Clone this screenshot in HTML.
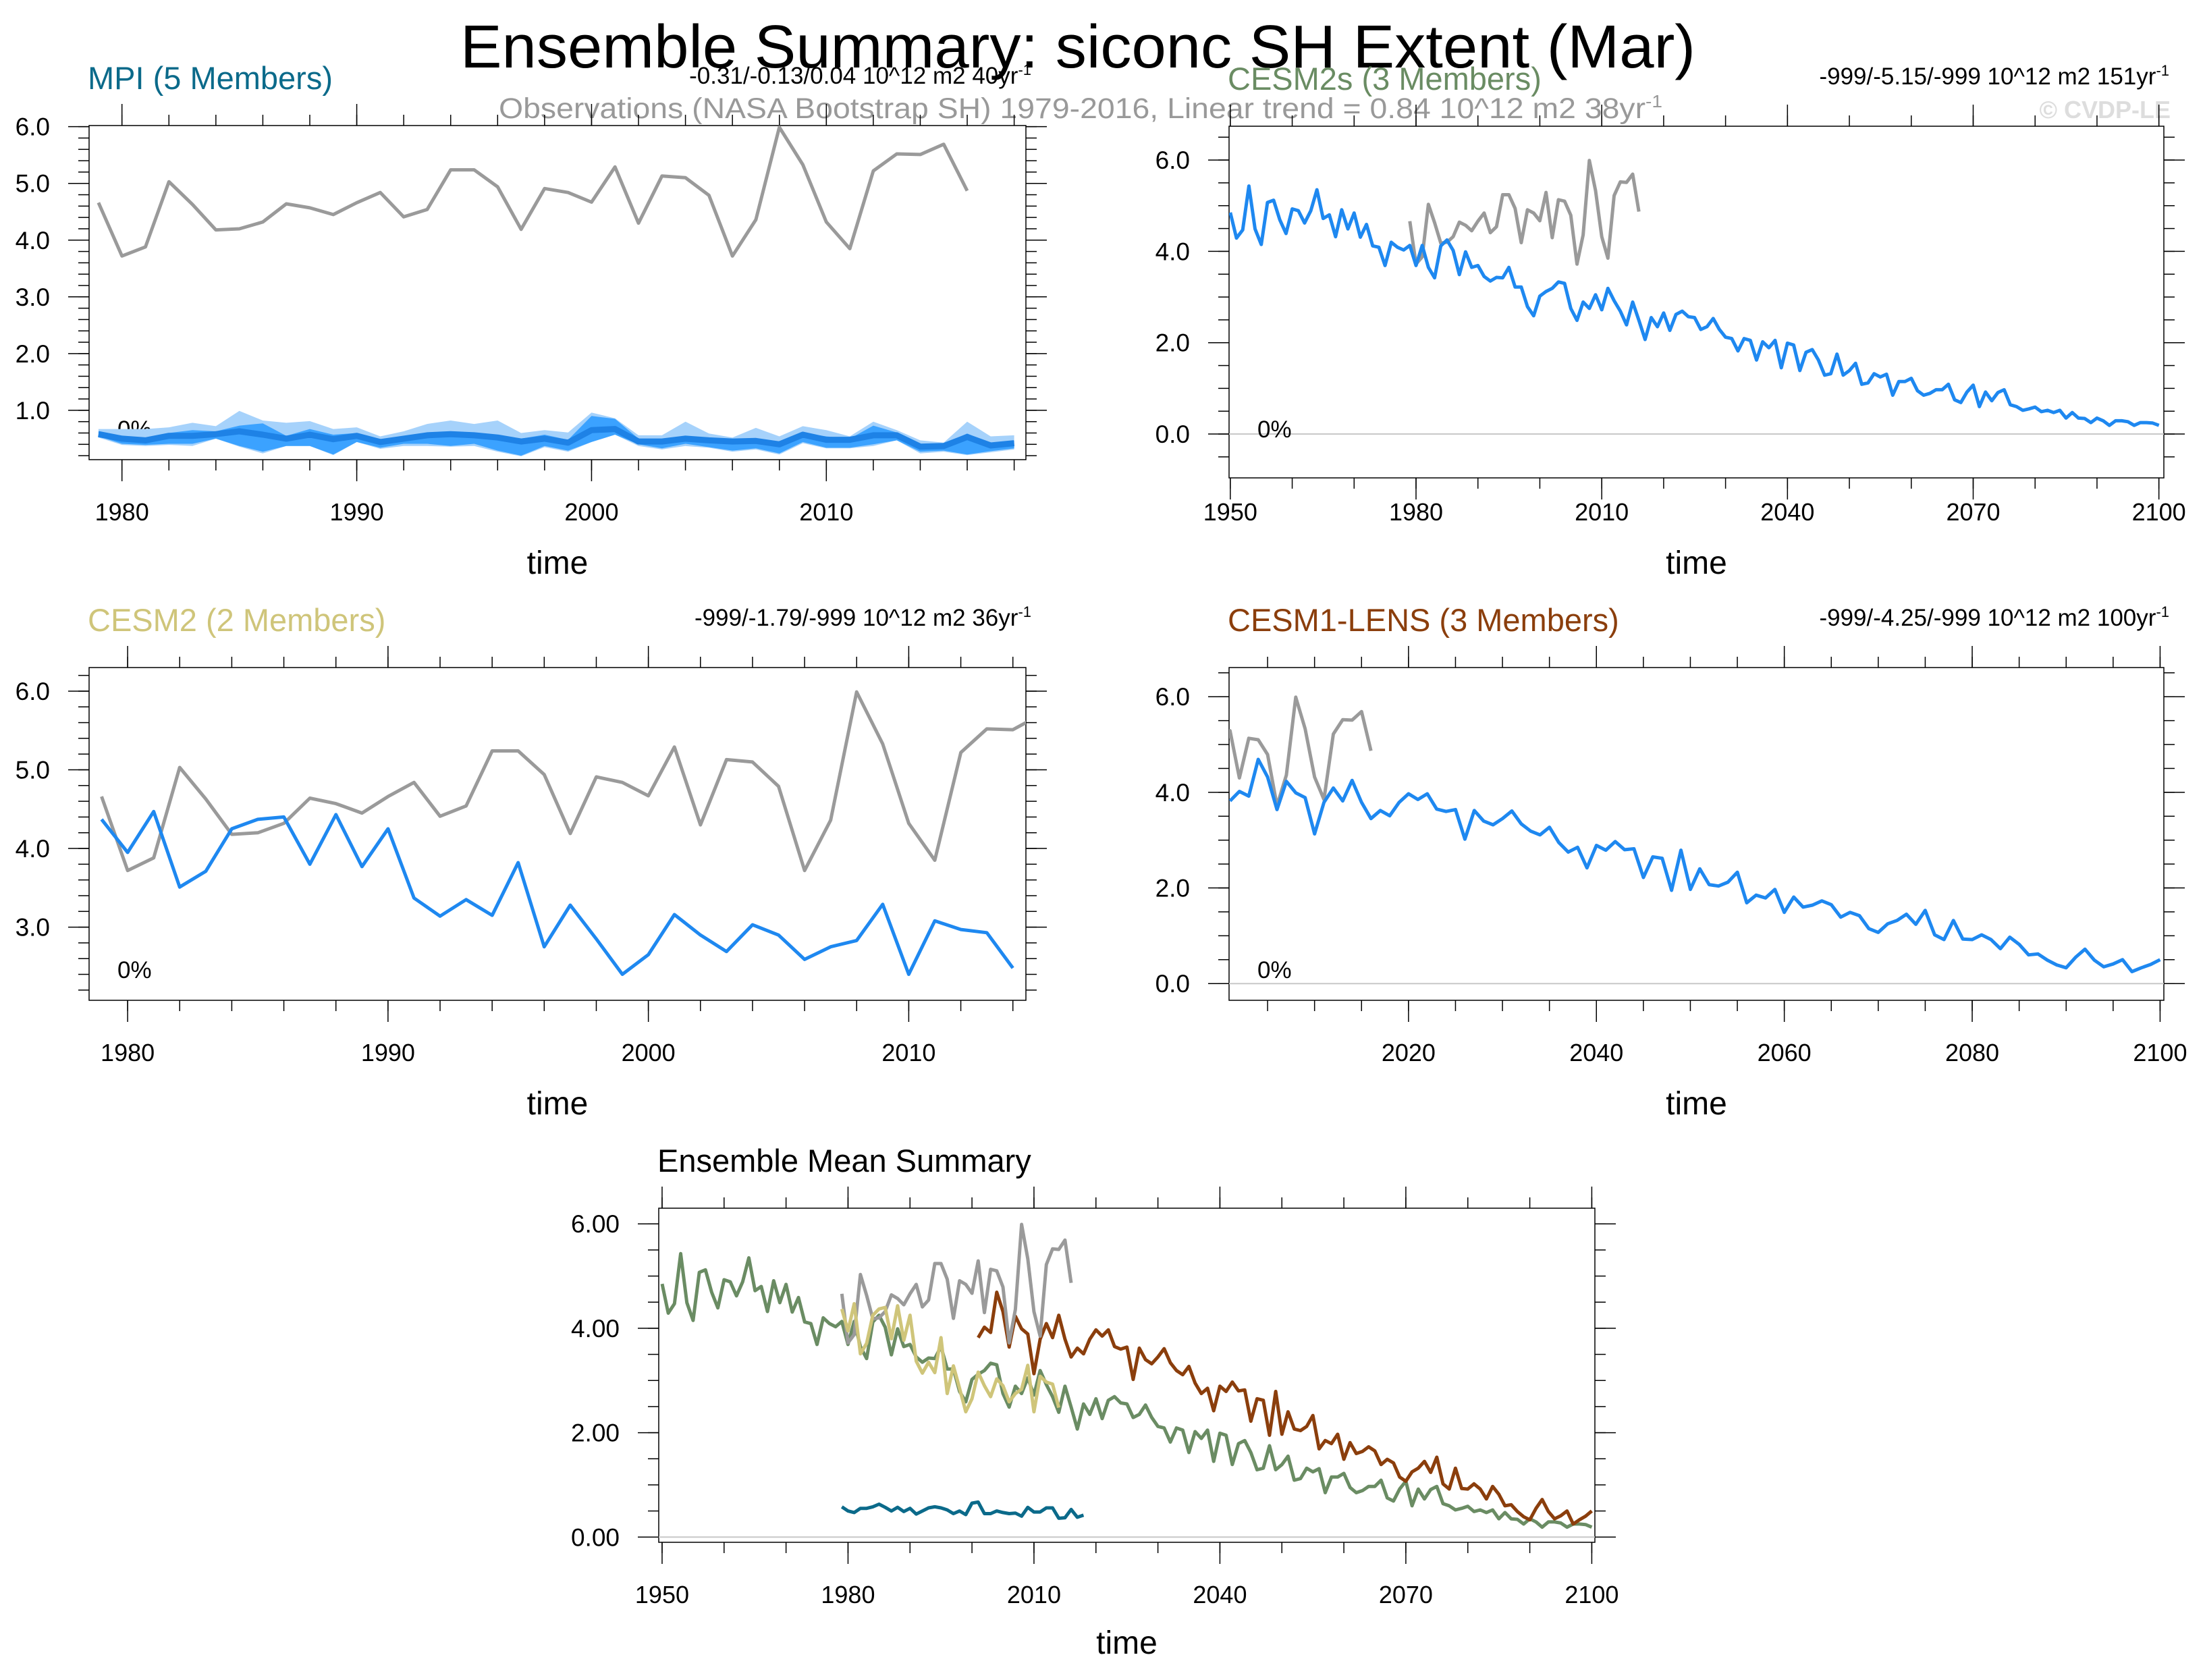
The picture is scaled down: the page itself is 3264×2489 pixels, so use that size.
<!DOCTYPE html>
<html><head><meta charset="utf-8"><style>
html,body{margin:0;padding:0;background:#fff}
svg{display:block}
text{font-family:"Liberation Sans",sans-serif}
</style></head><body>
<svg id="chart" width="3264" height="2489" viewBox="0 0 3264 2489" xmlns="http://www.w3.org/2000/svg">
<rect width="3264" height="2489" fill="#fff"/>
<text x="1597" y="100" font-size="90" text-anchor="middle" textLength="1830" lengthAdjust="spacingAndGlyphs">Ensemble Summary: siconc SH Extent (Mar)</text>
<text x="1601" y="175" font-size="43" fill="#999" text-anchor="middle" textLength="1724" lengthAdjust="spacingAndGlyphs">Observations (NASA Bootstrap SH) 1979-2016, Linear trend = 0.84 10^12 m2 38yr<tspan dy="-16" font-size="26">-1</tspan></text>
<text x="3216" y="175" font-size="36" font-weight="bold" fill="#ddd" text-anchor="end">© CVDP-LE</text>
<defs id="defs"></defs>
<g id="plots"></g>
</svg>
<script>
// ---------- data ----------
const obsStart = 1979;
const obsValues = [4.66,3.72,3.88,5.03,4.63,4.18,4.20,4.32,4.64,4.57,4.45,4.66,4.84,4.41,4.54,5.24,5.24,4.94,4.19,4.91,4.84,4.67,5.29,4.30,5.13,5.10,4.79,3.72,4.36,5.99,5.33,4.32,3.85,5.22,5.52,5.51,5.69,4.87];
const mpiStart = 1979;
const mpiMean = [0.58,0.50,0.47,0.55,0.55,0.58,0.63,0.57,0.50,0.57,0.49,0.55,0.44,0.50,0.56,0.58,0.56,0.52,0.45,0.50,0.43,0.65,0.67,0.45,0.45,0.50,0.47,0.45,0.46,0.40,0.57,0.48,0.48,0.56,0.56,0.36,0.37,0.53,0.38,0.42];
const mpiMax = [0.67,0.67,0.67,0.70,0.78,0.72,0.99,0.82,0.78,0.81,0.67,0.70,0.54,0.63,0.76,0.82,0.76,0.82,0.60,0.65,0.61,0.96,0.86,0.56,0.56,0.80,0.59,0.52,0.69,0.54,0.72,0.65,0.54,0.80,0.65,0.47,0.43,0.80,0.54,0.56];
const mpiMin = [0.52,0.39,0.37,0.39,0.37,0.50,0.36,0.24,0.37,0.37,0.21,0.44,0.32,0.37,0.37,0.36,0.37,0.27,0.19,0.35,0.27,0.44,0.57,0.37,0.31,0.37,0.34,0.27,0.31,0.22,0.42,0.33,0.33,0.37,0.47,0.24,0.27,0.21,0.26,0.31];
const mpiHi = [0.63,0.54,0.50,0.60,0.65,0.63,0.73,0.77,0.55,0.67,0.57,0.60,0.47,0.54,0.60,0.63,0.61,0.54,0.50,0.57,0.48,0.90,0.85,0.50,0.50,0.55,0.50,0.47,0.50,0.44,0.60,0.54,0.50,0.73,0.61,0.41,0.41,0.59,0.41,0.46];
const mpiLo = [0.54,0.41,0.39,0.41,0.41,0.50,0.37,0.27,0.37,0.37,0.22,0.44,0.34,0.41,0.41,0.37,0.41,0.29,0.20,0.37,0.29,0.44,0.57,0.40,0.33,0.41,0.35,0.29,0.33,0.24,0.44,0.34,0.34,0.40,0.47,0.27,0.29,0.22,0.28,0.33];
const cesm2sStart = 1950;
const cesm2sValues = [4.85,4.29,4.47,5.43,4.49,4.15,5.07,5.12,4.69,4.39,4.93,4.89,4.62,4.89,5.35,4.72,4.80,4.32,4.91,4.49,4.84,4.31,4.59,4.12,4.09,3.69,4.20,4.09,4.03,4.13,3.69,4.13,3.65,3.42,4.12,4.25,4.02,3.49,3.99,3.65,3.69,3.45,3.35,3.43,3.42,3.65,3.22,3.22,2.79,2.59,3.02,3.12,3.19,3.33,3.30,2.75,2.49,2.89,2.75,3.05,2.72,3.19,2.92,2.69,2.39,2.89,2.49,2.07,2.55,2.35,2.65,2.27,2.62,2.69,2.57,2.55,2.29,2.35,2.53,2.29,2.12,2.09,1.82,2.09,2.05,1.62,2.02,1.89,2.05,1.45,1.99,1.95,1.39,1.79,1.85,1.62,1.29,1.32,1.75,1.29,1.39,1.55,1.09,1.12,1.32,1.25,1.31,0.85,1.15,1.15,1.22,0.95,0.85,0.89,0.97,0.97,1.09,0.75,0.69,0.92,1.07,0.60,0.92,0.73,0.91,0.97,0.64,0.60,0.52,0.55,0.59,0.49,0.52,0.47,0.52,0.35,0.47,0.35,0.34,0.25,0.35,0.29,0.19,0.29,0.29,0.27,0.19,0.25,0.25,0.24,0.19];
const cesm2Start = 1979;
const cesm2Values = [4.37,3.95,4.47,3.51,3.71,4.25,4.37,4.40,3.80,4.43,3.77,4.25,3.37,3.14,3.35,3.15,3.82,2.75,3.28,2.85,2.40,2.65,3.16,2.90,2.69,3.03,2.90,2.59,2.75,2.83,3.29,2.40,3.08,2.97,2.93,2.48];
const lensStart = 2001;
const lensValues = [3.82,4.02,3.92,4.69,4.32,3.64,4.23,3.99,3.89,3.13,3.79,4.09,3.82,4.25,3.79,3.45,3.62,3.51,3.79,3.97,3.85,3.97,3.65,3.60,3.64,3.02,3.62,3.40,3.32,3.45,3.61,3.34,3.19,3.11,3.27,2.95,2.75,2.85,2.42,2.89,2.79,2.97,2.80,2.82,2.22,2.65,2.62,1.95,2.79,1.97,2.40,2.07,2.04,2.12,2.33,1.69,1.85,1.79,1.97,1.49,1.81,1.60,1.64,1.73,1.65,1.39,1.49,1.42,1.15,1.07,1.25,1.32,1.45,1.24,1.53,1.02,0.92,1.32,0.93,0.92,1.02,0.92,0.73,0.97,0.82,0.60,0.62,0.49,0.39,0.33,0.55,0.72,0.49,0.35,0.41,0.50,0.25,0.33,0.40,0.50];

const C = {gray:"#9a9a9a", blue:"#1e88f0", mpi:"#0b6a8a", green:"#6a8c63", yellow:"#cfc57a", brown:"#8b3e0c"};
const NS = "http://www.w3.org/2000/svg";
const root = document.getElementById("plots");
const defs = document.getElementById("defs");
let clipId = 0;

function el(tag, attrs, parent){
  const e = document.createElementNS(NS, tag);
  for (const k in attrs) e.setAttribute(k, attrs[k]);
  (parent||root).appendChild(e);
  return e;
}

function makePanel(p){
  const g = el("g", {});
  
  
  const sx = v => p.L + (v - p.xmin) / (p.xmax - p.xmin) * (p.R - p.L);
  const sy = v => p.B - (v - p.ymin) / (p.ymax - p.ymin) * (p.B - p.T);
  p.sx = sx; p.sy = sy; p.g = g;
  const id = "clip" + (clipId++);
  const cp = el("clipPath",{id:id},defs);
  el("rect",{x:p.L,y:p.T,width:p.R-p.L,height:p.B-p.T},cp);
  const tk = (x1,y1,x2,y2) => el("line",{x1,y1,x2,y2,stroke:"#000","stroke-width":1.5},g);
  for (let v = p.xminor[0]; v <= p.xminor[1] + 1e-6; v += p.xminor[2]) {
    const x = sx(v); tk(x,p.B,x,p.B+16); tk(x,p.T,x,p.T-16);
  }
  for (let v = p.xmajor[0]; v <= p.xmajor[1] + 1e-6; v += p.xmajor[2]) {
    const x = sx(v); tk(x,p.B,x,p.B+32); tk(x,p.T,x,p.T-32);
    const t = el("text",{x:x,y:p.xlabY,"font-size":36,"text-anchor":"middle"},g);
    
    
    t.textContent = String(v);
  }
  for (let v = p.yminor[0]; v <= p.yminor[1] + 1e-6; v += p.yminor[2]) {
    const y = sy(v); tk(p.L,y,p.L-16,y); tk(p.R,y,p.R+16,y);
  }
  for (let v = p.ymajor[0]; v <= p.ymajor[1] + 1e-6; v += p.ymajor[2]) {
    const y = sy(v); tk(p.L,y,p.L-31,y); tk(p.R,y,p.R+31,y);
    const t = el("text",{x:p.L-58,y:y+13,"font-size":37,"text-anchor":"end"},g);
    
    
    t.textContent = v.toFixed(p.ydec);
  }
  el("rect",{x:p.L,y:p.T,width:p.R-p.L,height:p.B-p.T,fill:"none",stroke:"#000","stroke-width":1.5},g);
  if (p.zeroLine){
    const z = el("line",{x1:p.L,x2:p.R,y1:sy(0),y2:sy(0),stroke:"#c8c8c8","stroke-width":2},g);
    
    
  }
  const xt = el("text",{x:(p.L+p.R)/2,y:p.timeY,"font-size":48,"text-anchor":"middle"},g);
  
  
  xt.textContent = "time";
  if (p.title){
    const tt = el("text",{x:p.L-2,y:p.T-54,"font-size":47,fill:p.titleColor},g);
    
    
    tt.textContent = p.title;
  }
  if (p.trend){
    const tr = el("text",{x:p.R+8,y:p.T-62,"font-size":35,"text-anchor":"end"},g);
    
    
    tr.textContent = p.trend;
    const sp = el("tspan",{dy:-13,"font-size":22},tr);
    sp.textContent = "-1";
  }
  if (p.pct){
    const pc = el("text",{x:p.L+42,y:p.pctY,"font-size":35},g);
    
    
    pc.textContent = "0%";
  }
  p.data = el("g",{"clip-path":"url(#"+id+")"},g);
  return p;
}

function line(p, start, vals, color, w, name){
  const pts = vals.map((v,i)=> p.sx(start+i).toFixed(1)+","+p.sy(v).toFixed(1)).join(" ");
  const l = el("polyline",{points:pts,fill:"none",stroke:color,"stroke-width":w,"stroke-linejoin":"round"},p.data);
  
  
}
function band(p, start, hi, lo, color, name){
  const a = hi.map((v,i)=> p.sx(start+i).toFixed(1)+","+p.sy(v).toFixed(1));
  const b = lo.map((v,i)=> p.sx(start+i).toFixed(1)+","+p.sy(v).toFixed(1)).reverse();
  const poly = el("polygon",{points:a.concat(b).join(" "),fill:color,stroke:"none"},p.data);
  
  
}

const p1 = makePanel({name:"mpi-panel",L:132,R:1520,T:186,B:681,xmin:1978.6,xmax:2018.5,ymin:0.13,ymax:6.02,
  xmajor:[1980,2010,10],xminor:[1980,2018,2],ymajor:[1,6,1],yminor:[0.2,6.0,0.2],ydec:1,xlabY:771,timeY:850,
  title:"MPI (5 Members)",titleColor:C.mpi,trend:"-0.31/-0.13/0.04 10^12 m2 40yr",pct:true,pctY:648});
band(p1, mpiStart, mpiMax, mpiMin, "#a6d2fb", "mpi-range-band");
band(p1, mpiStart, mpiHi, mpiLo, "#3ba2ff", "mpi-spread-band");
line(p1, mpiStart, mpiMean, "#1e82e6", 9, "mpi-mean-line");
line(p1, obsStart, obsValues, C.gray, 5, "observations-line");

const p2 = makePanel({name:"cesm2s-panel",L:1821,R:3206,T:187,B:708,xmin:1949.8,xmax:2100.8,ymin:-0.96,ymax:6.74,
  xmajor:[1950,2100,30],xminor:[1950,2100,10],ymajor:[0,6,2],yminor:[-0.5,6.5,0.5],ydec:1,xlabY:771,timeY:850,
  title:"CESM2s (3 Members)",titleColor:C.green,trend:"-999/-5.15/-999 10^12 m2 151yr",pct:true,pctY:648,zeroLine:true});
line(p2, obsStart, obsValues, C.gray, 5, "observations-line");
line(p2, cesm2sStart, cesm2sValues, C.blue, 5, "cesm2s-mean-line");

const p3 = makePanel({name:"cesm2-panel",L:132,R:1520,T:989,B:1482,xmin:1978.52,xmax:2014.5,ymin:2.07,ymax:6.3,
  xmajor:[1980,2010,10],xminor:[1980,2014,2],ymajor:[3,6,1],yminor:[2.2,6.2,0.2],ydec:1,xlabY:1572,timeY:1651,
  title:"CESM2 (2 Members)",titleColor:C.yellow,trend:"-999/-1.79/-999 10^12 m2 36yr",pct:true,pctY:1449});
line(p3, obsStart, obsValues, C.gray, 5, "observations-line");
line(p3, cesm2Start, cesm2Values, C.blue, 5, "cesm2-mean-line");

const p4 = makePanel({name:"cesm1-lens-panel",L:1821,R:3206,T:989,B:1482,xmin:2000.9,xmax:2100.4,ymin:-0.35,ymax:6.61,
  xmajor:[2020,2100,20],xminor:[2005,2100,5],ymajor:[0,6,2],yminor:[0,6.5,0.5],ydec:1,xlabY:1572,timeY:1651,
  title:"CESM1-LENS (3 Members)",titleColor:C.brown,trend:"-999/-4.25/-999 10^12 m2 100yr",pct:true,pctY:1449,zeroLine:true});
line(p4, obsStart, obsValues, C.gray, 5, "observations-line");
line(p4, lensStart, lensValues, C.blue, 5, "cesm1-lens-mean-line");

const p5 = makePanel({name:"ensemble-mean-panel",L:976,R:2363,T:1790,B:2285,xmin:1949.46,xmax:2100.5,ymin:-0.1,ymax:6.3,
  xmajor:[1950,2100,30],xminor:[1950,2100,10],ymajor:[0,6,2],yminor:[0,6,0.5],ydec:2,xlabY:2375,timeY:2450,
  title:"Ensemble Mean Summary",titleColor:"#000",zeroLine:true});
line(p5, cesm2sStart, cesm2sValues, C.green, 5, "cesm2s-summary-line");
line(p5, lensStart, lensValues, C.brown, 5, "cesm1-lens-summary-line");
line(p5, obsStart, obsValues, C.gray, 5, "observations-summary-line");
line(p5, cesm2Start, cesm2Values, C.yellow, 5, "cesm2-summary-line");
line(p5, mpiStart, mpiMean, C.mpi, 5, "mpi-summary-line");
</script>
</body></html>
